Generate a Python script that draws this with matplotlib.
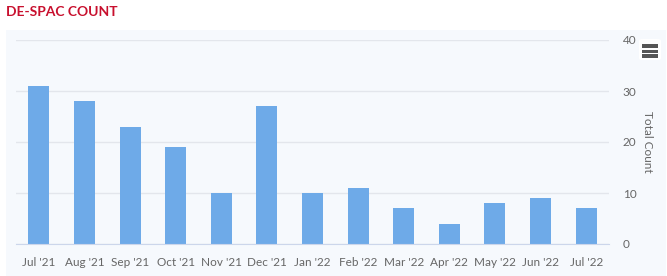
import matplotlib.pyplot as plt
from matplotlib.patches import Rectangle, FancyBboxPatch

months = ["Jul '21", "Aug '21", "Sep '21", "Oct '21", "Nov '21", "Dec '21",
          "Jan '22", "Feb '22", "Mar '22", "Apr '22", "May '22", "Jun '22", "Jul '22"]
counts = [31, 28, 23, 19, 10, 27, 10, 11, 7, 4, 8, 9, 7]
y_ticks = [0, 10, 20, 30, 40]

plt.rcParams['font.family'] = ['Lato', 'DejaVu Sans']

W, H = 667, 276
fig = plt.figure(figsize=(W / 100, H / 100), dpi=100)
fig.patch.set_facecolor("white")

# light panel behind the chart
fig.patches.append(Rectangle((6 / W, 0), 660 / W, 1 - 30 / H, transform=fig.transFigure,
                             facecolor="#f6f9fd", edgecolor="none", zorder=-10))

fig.text(6 / W, 1 - 12 / H, "DE-SPAC COUNT", color="#c8102e", fontsize=10,
         fontweight="bold", va="center", ha="left")

ax = fig.add_axes([16 / W, 1 - 244 / H, 593 / W, 204 / H])
ax.set_facecolor("none")
x = range(len(months))
ax.bar(x, counts, width=0.46, color="#6eaae8", zorder=3)

ax.set_xlim(-0.5, len(months) - 0.5)
ax.set_ylim(0, 40)
ax.set_xticks(list(x))
ax.set_xticklabels(months)
ax.set_yticks(y_ticks)
ax.yaxis.tick_right()
ax.yaxis.set_label_position("right")
ax.set_ylabel("Total Count", rotation=270, labelpad=12, color="#666666", fontsize=8.5)
ax.tick_params(axis="x", length=0, pad=9, labelcolor="#666666", labelsize=8.5)
ax.tick_params(axis="y", length=0, pad=10, labelcolor="#666666", labelsize=8.5)
ax.grid(axis="y", color="#e3e6ec", linewidth=1, zorder=0)
for s in ["top", "left", "right"]:
    ax.spines[s].set_visible(False)
ax.spines["bottom"].set_color("#ccd6eb")
ax.spines["bottom"].set_zorder(4)

# menu icon
fig.patches.append(FancyBboxPatch((639 / W, 1 - 60 / H), 22 / W, 21 / H,
                                  boxstyle="round,pad=0,rounding_size=0.006",
                                  transform=fig.transFigure, facecolor="white",
                                  edgecolor="none", zorder=5))
for yy in [46, 51, 56]:
    fig.patches.append(Rectangle((642 / W, 1 - (yy + 1.5) / H), 16 / W, 3 / H,
                                 transform=fig.transFigure, facecolor="#555555",
                                 edgecolor="none", zorder=6))

fig.savefig("out.png", dpi=100)
